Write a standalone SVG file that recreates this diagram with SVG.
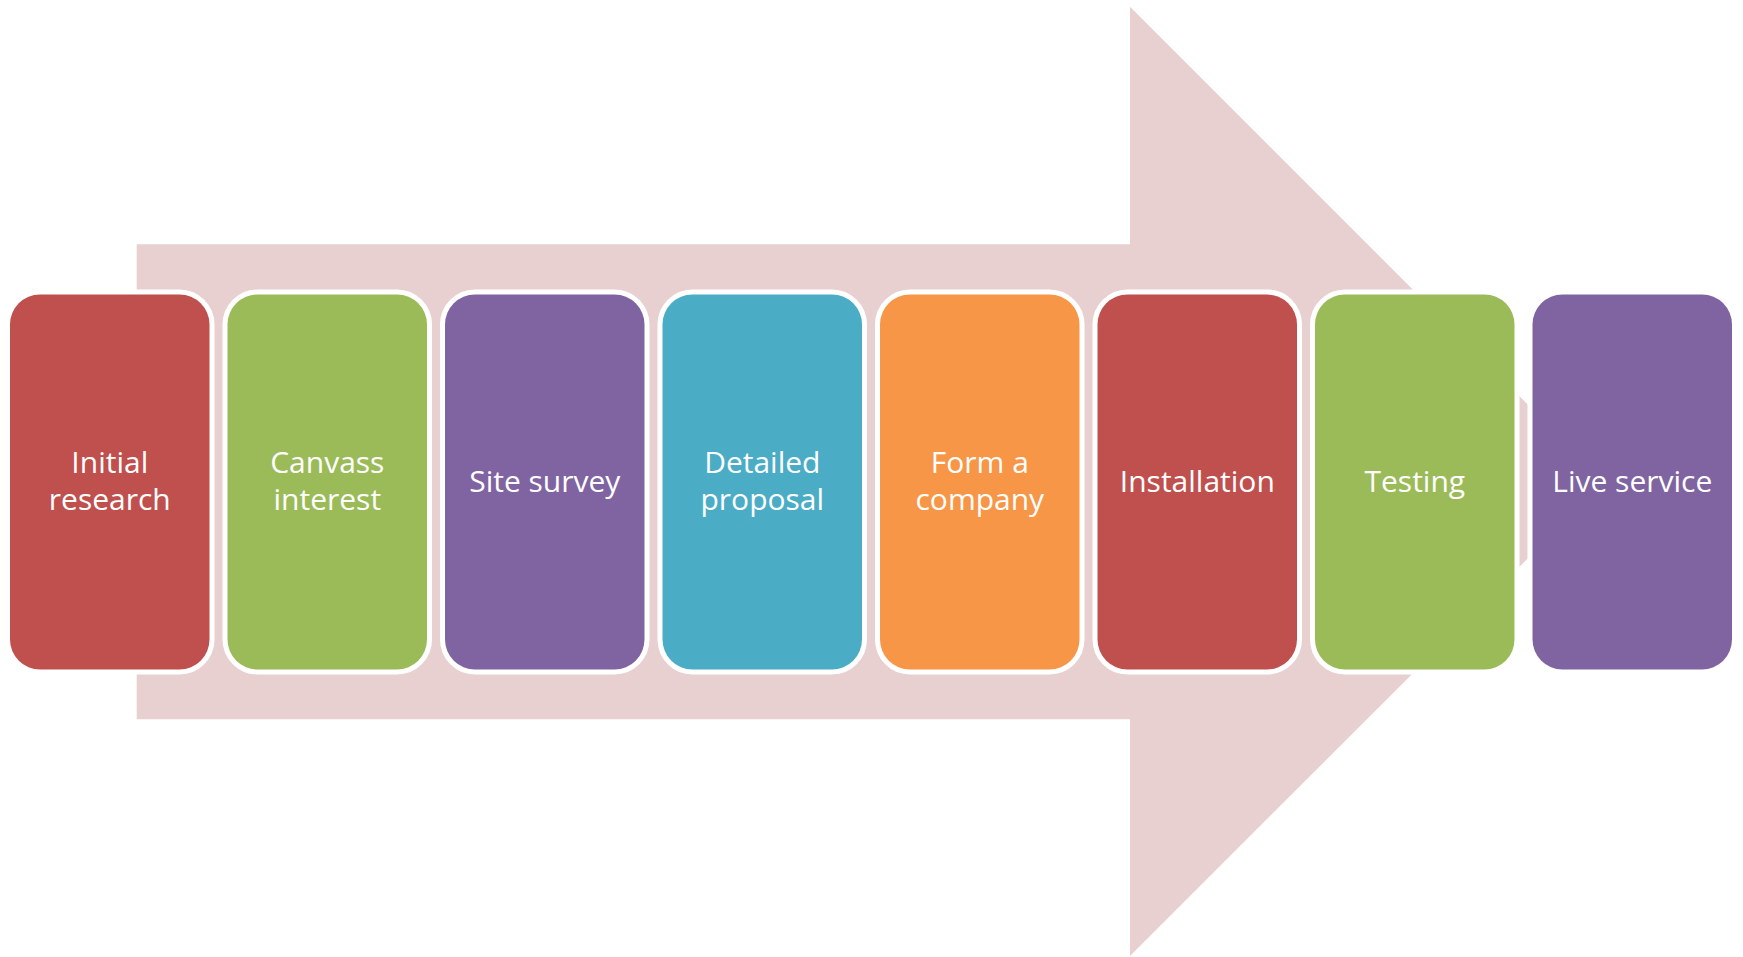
<svg xmlns="http://www.w3.org/2000/svg" width="1743" height="957" viewBox="0 0 1743 957">
<style>
.box{stroke:#fff;stroke-width:10;paint-order:stroke}
.lbl{font-family:"Open Sans","Liberation Sans",sans-serif;font-size:30px;fill:#fff;text-anchor:middle}
.r{fill:#C0504D}.g{fill:#9BBB59}.p{fill:#8064A2}.t{fill:#4BACC6}.o{fill:#F79646}
</style>
<rect width="1743" height="957" fill="#fff"/>
<g id="connectors">
<polygon id="arrow" points="136.7,244.3 1130,244.3 1130,6.7 1604.7,481.5 1130,956 1130,719.3 136.7,719.3" fill="#E8D0D1"/>
</g>
<g id="n1"><rect class="box r" x="10" y="294.5" width="199.5" height="375" rx="30"/><text class="lbl" x="109.8" y="472.7">Initial</text><text class="lbl" x="109.8" y="510.2">research</text></g>
<g id="n2"><rect class="box g" x="227.5" y="294.5" width="199.5" height="375" rx="30"/><text class="lbl" x="327.3" y="472.7">Canvass</text><text class="lbl" x="327.3" y="510.2">interest</text></g>
<g id="n3"><rect class="box p" x="445" y="294.5" width="199.5" height="375" rx="30"/><text class="lbl" x="544.8" y="491.7">Site survey</text></g>
<g id="n4"><rect class="box t" x="662.5" y="294.5" width="199.5" height="375" rx="30"/><text class="lbl" x="762.3" y="472.7">Detailed</text><text class="lbl" x="762.3" y="510.2">proposal</text></g>
<g id="n5"><rect class="box o" x="880" y="294.5" width="199.5" height="375" rx="30"/><text class="lbl" x="979.8" y="472.7">Form a</text><text class="lbl" x="979.8" y="510.2">company</text></g>
<g id="n6"><rect class="box r" x="1097.5" y="294.5" width="199.5" height="375" rx="30"/><text class="lbl" x="1197.3" y="491.7">Installation</text></g>
<g id="n7"><rect class="box g" x="1315" y="294.5" width="199.5" height="375" rx="30"/><text class="lbl" x="1414.8" y="491.7">Testing</text></g>
<g id="n8"><rect class="box p" x="1532.5" y="294.5" width="199.5" height="375" rx="30"/><text class="lbl" x="1632.3" y="491.7">Live service</text></g>
</svg>
